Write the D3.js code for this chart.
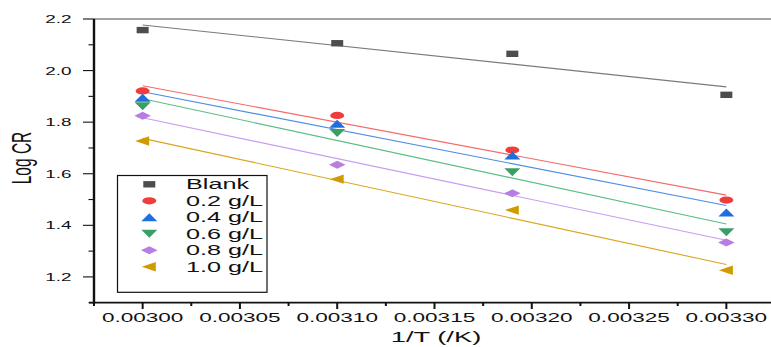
<!DOCTYPE html>
<html>
<head>
<meta charset="utf-8">
<script src="https://cdn.jsdelivr.net/npm/d3@7"></script>
<style>
  html, body { margin: 0; padding: 0; background: #fff; }
  svg { display: block; font-family: "Liberation Sans", Arial, sans-serif; }
</style>
</head>
<body>
<svg id="chart" width="771" height="347"></svg>
<script>
// Inverse temperature (1/K) at which the corrosion rate was measured
const invT = [0.00300, 0.00310, 0.00319, 0.00330];

// log of corrosion rate for each inhibitor concentration
const seriesNames = ["Blank", "0.2 g/L", "0.4 g/L", "0.6 g/L", "0.8 g/L", "1.0 g/L"];
const blank = [2.157, 2.106, 2.065, 1.906];
const c02 = [1.921, 1.826, 1.692, 1.498];
const c04 = [1.895, 1.794, 1.671, 1.450];
const c06 = [1.862, 1.758, 1.606, 1.373];
const c08 = [1.825, 1.635, 1.524, 1.333];
const c10 = [1.727, 1.579, 1.459, 1.226];

// Linear fit lines: value at 1/T = 0.00300 and at 0.00330
const fitX = [0.00300, 0.00330];
const fitBlank = [2.177, 1.937];
const fit02 = [1.941, 1.517];
const fit04 = [1.918, 1.477];
const fit06 = [1.891, 1.405];
const fit08 = [1.817, 1.342];
const fit10 = [1.737, 1.248];

// Axis ticks
const xTicks = [0.00300, 0.00305, 0.00310, 0.00315, 0.00320, 0.00325, 0.00330];
const xMinor = [0.002975, 0.003025, 0.003075, 0.003125, 0.003175, 0.003225, 0.003275];
const yTicks = [1.2, 1.4, 1.6, 1.8, 2.0, 2.2];
const yMinor = [1.1, 1.3, 1.5, 1.7, 1.9, 2.1];

const values = [blank, c02, c04, c06, c08, c10];
const fits = [fitBlank, fit02, fit04, fit06, fit08, fit10];
const markerColors = ["#4d4d4d", "#ef3d3d", "#1f6fdb", "#38a065", "#b77de2", "#d09b00"];
const lineColors = ["#7a7a7a", "#f46a6a", "#4d8de6", "#5bbd85", "#c79cf0", "#daa51c"];
const shapes = ["square", "circle", "up", "down", "diamond", "left"];

const svg = d3.select("#chart");

const x = d3.scaleLinear().domain([0.002975, 0.003325]).range([94, 775]);
const y = d3.scaleLinear().domain([1.1, 2.2]).range([302.7, 19]);

// Marker outline for a given shape, centred at 0,0 (markers are drawn wide and flat)
function shapeD(shape) {
  const p = d3.path();
  switch (shape) {
    case "square":
      p.rect(-6, -3.2, 12, 6.4); break;
    case "circle":
      return "M-7,0A7,3.6 0 1,0 7,0A7,3.6 0 1,0 -7,0Z";
    case "up":
      p.moveTo(0, -4); p.lineTo(8, 4); p.lineTo(-8, 4); p.closePath(); break;
    case "down":
      p.moveTo(-8, -4); p.lineTo(8, -4); p.lineTo(0, 4); p.closePath(); break;
    case "diamond":
      p.moveTo(0, -4); p.lineTo(8.3, 0); p.lineTo(0, 4); p.lineTo(-8.3, 0); p.closePath(); break;
    case "left":
      p.moveTo(-7.5, 0); p.lineTo(6.5, -4.7); p.lineTo(6.5, 4.7); p.closePath(); break;
  }
  return p.toString();
}

// Horizontally widened text
function wideText(g, txt, px, py, opts) {
  return g.append("text")
    .attr("transform", `translate(${px},${py}) scale(${opts.sx},1)` + (opts.rotate ? ` rotate(${opts.rotate})` : ""))
    .attr("font-size", opts.size)
    .attr("fill", opts.fill || "#111")
    .attr("text-anchor", opts.anchor || "start")
    .text(txt);
}

// Top frame line
svg.append("line")
  .attr("x1", 94).attr("x2", 771)
  .attr("y1", y(2.2)).attr("y2", y(2.2))
  .attr("stroke", "#858585").attr("stroke-width", 1.5);

// Fit lines
const lineGen = d3.line().x(d => x(d[0])).y(d => y(d[1]));
fits.forEach((f, i) => {
  svg.append("path")
    .attr("d", lineGen(fitX.map((xv, k) => [xv, f[k]])))
    .attr("fill", "none")
    .attr("stroke", lineColors[i])
    .attr("stroke-width", 1.1);
});

// Data markers
values.forEach((vals, i) => {
  svg.append("g").selectAll("path")
    .data(vals.map((v, k) => [invT[k], v]))
    .join("path")
    .attr("d", shapeD(shapes[i]))
    .attr("transform", d => `translate(${x(d[0])},${y(d[1])})`)
    .attr("fill", markerColors[i]);
});

// Axes
const axis = svg.append("g");
axis.append("line").attr("x1", 94).attr("x2", 94).attr("y1", y(2.2)).attr("y2", 303.5)
  .attr("stroke", "#111").attr("stroke-width", 2.4);
axis.append("line").attr("x1", 89).attr("x2", 771).attr("y1", 302.7).attr("y2", 302.7)
  .attr("stroke", "#111").attr("stroke-width", 1.8);

// y ticks and labels
axis.selectAll(".ymaj").data(yTicks).join("line")
  .attr("x1", 83).attr("x2", 94).attr("y1", d => y(d)).attr("y2", d => y(d))
  .attr("stroke", "#111").attr("stroke-width", 1.1);
axis.selectAll(".ymin").data(yMinor).join("line")
  .attr("x1", 88.5).attr("x2", 94).attr("y1", d => y(d)).attr("y2", d => y(d))
  .attr("stroke", "#111").attr("stroke-width", 1.1);
yTicks.forEach(v => {
  wideText(axis, v.toFixed(1), 71.5, y(v) + 4, { sx: 1.72, size: 11, anchor: "end" });
});

// x ticks and labels
axis.selectAll(".xmaj").data(xTicks).join("line")
  .attr("x1", d => x(d)).attr("x2", d => x(d)).attr("y1", 302.7).attr("y2", 309)
  .attr("stroke", "#111").attr("stroke-width", 2);
axis.selectAll(".xmin").data(xMinor).join("line")
  .attr("x1", d => x(d)).attr("x2", d => x(d)).attr("y1", 302.7).attr("y2", 306)
  .attr("stroke", "#111").attr("stroke-width", 2);
xTicks.forEach(v => {
  wideText(axis, v.toFixed(5), x(v), 321.7, { sx: 1.88, size: 12, anchor: "middle" });
});

// Axis titles
wideText(svg, "1/T (/K)", 436, 342, { sx: 1.95, size: 14, anchor: "middle" });
wideText(svg, "Log CR", 30.5, 158, { sx: 1.8, size: 15.5, anchor: "middle", rotate: -90 });

// Legend
const legend = svg.append("g");
legend.append("rect")
  .attr("x", 117.5).attr("y", 175.5).attr("width", 149.5).attr("height", 116.8)
  .attr("fill", "#fff").attr("stroke", "#111").attr("stroke-width", 1.2);
seriesNames.forEach((name, i) => {
  const cy = 184.3 + i * 16.48;
  legend.append("path")
    .attr("d", shapeD(shapes[i]))
    .attr("transform", `translate(149.3,${cy})`)
    .attr("fill", markerColors[i]);
  wideText(legend, name, 186, cy + 5, { sx: 1.8, size: 14, anchor: "start" });
});
</script>
</body>
</html>
